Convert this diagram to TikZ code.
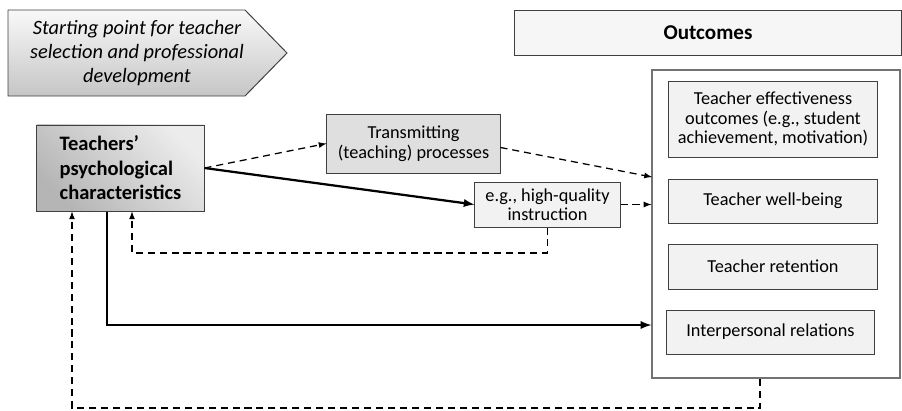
\documentclass[tikz,border=0pt]{standalone}
\usepackage{fontspec}
\setmainfont{Carlito}

\begin{document}
\begin{tikzpicture}[x=0.025cm, y=-0.025cm,
        box/.style = {draw=black!75, line width=0.7pt, fill=gray!10, align=center, inner sep=2pt, font=\fontsize{13}{13.9}\selectfont},
        flow/.style = {line width=1.6pt, -latex},
        back/.style = {line width=0.9pt, dash pattern=on 5pt off 3.5pt, -latex}]
        \useasboundingbox (0,0) rectangle (902,410);

        % arrow-shaped label
        \draw[draw=black!75, line width=0.7pt, top color=gray!5, bottom color=gray!45] (8,10) -- (245,10) -- (287,53) -- (245,96) -- (8,96) -- cycle;
        \node[align=center, font=\fontsize{14.5}{17}\selectfont\itshape] (start) at (137,53) {Starting point for teacher\\selection and professional\\development};

        \node[box, top color=gray!15, bottom color=gray!58, shading angle=-45, minimum width=4.175cm, minimum height=2.15cm, align=left, font=\fontsize{14.6}{17.4}\selectfont\bfseries] (teach) at (120.5,168) {Teachers'\\psychological\\characteristics};
        \node[box, fill=gray!25, minimum width=4.325cm, minimum height=1.475cm] (trans) at (413.5,143.5) {Transmitting\\(teaching) processes};
        \node[box, minimum width=3.625cm, minimum height=1.125cm] (instr) at (547.5,204.5) {e.g., high-quality\\instruction};

        \node[box, fill=gray!7, minimum width=9.65cm, minimum height=1.125cm, font=\fontsize{15}{17}\selectfont\bfseries] (head) at (708,32.5) {Outcomes};
        \node[draw=black!55, line width=0.8pt, minimum width=6.2cm, minimum height=7.7cm] (outer) at (776,224) {};
        \node[box, minimum width=5.2cm, minimum height=1.9cm] (eff) at (773,119) {Teacher effectiveness\\outcomes (e.g., student\\achievement, motivation)};
        \node[box, minimum width=5.2cm, minimum height=1.1cm] (well) at (773,201) {Teacher well-being};
        \node[box, minimum width=5.2cm, minimum height=1.125cm] (ret) at (773,266.5) {Teacher retention};
        \node[box, minimum width=5.175cm, minimum height=1.1cm] (rel) at (770.5,332) {Interpersonal relations};

        \coordinate (in1) at (652,177);
        \coordinate (c1) at (107,325);
        \coordinate (fb1) at (132,253);
        \coordinate (fb2) at (72,408);

        % direct paths
        \draw[back] (teach.east) -- (trans.west);
        \draw[flow] (teach.east) -- (instr.west);
        \draw[back] ([yshift=-0.1cm]trans.east) -- (in1);
        \draw[back] (instr.east) -- (instr.east -| outer.west);
        \draw[flow] (teach.south -| c1) -- (c1) -- (c1 -| outer.west);

        % feedback loops
        \draw[back] (instr.south) |- (fb1) -- (fb1 |- teach.south);
        \draw[back] ([xshift=-0.4cm]outer.south) |- (fb2) -- (fb2 |- teach.south);
    \end{tikzpicture}
\end{document}
